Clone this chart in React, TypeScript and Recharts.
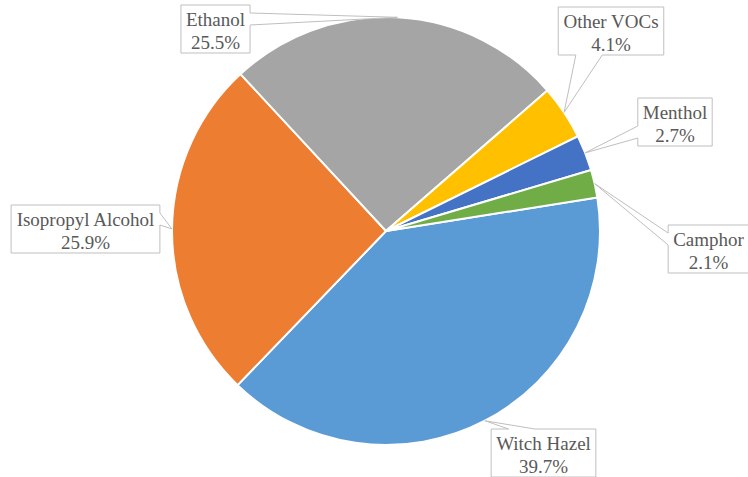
import React from 'react';
import { PieChart, Pie, Cell } from 'recharts';

const categories = ['Witch Hazel', 'Isopropyl Alcohol', 'Ethanol', 'Other VOCs', 'Menthol', 'Camphor'];
const shares = [39.7, 25.9, 25.5, 4.1, 2.7, 2.1];
const colors = ['#5B9BD5', '#ED7D31', '#A5A5A5', '#FFC000', '#4472C4', '#70AD47'];
// callout box centre, relative to pie centre
const calloutOffsets: [number, number][] = [
  [157.5, 222],
  [-300.5, -2],
  [-170.5, -202],
  [225, -200],
  [289, -109],
  [322.5, 18],
];

const data = categories.map((name, i) => ({ name, value: shares[i] }));

const FONT_FAMILY = '"Liberation Serif", serif';
const FONT_SIZE = 19;
const BOX_H = 48;
const PAD = 5;

let ctx: CanvasRenderingContext2D | null = null;
function textWidth(s: string): number {
  if (!ctx) {
    const c = document.createElement('canvas');
    ctx = c.getContext('2d');
  }
  if (!ctx) return s.length * FONT_SIZE * 0.5;
  ctx.font = `${FONT_SIZE}px ${FONT_FAMILY}`;
  return ctx.measureText(s).width;
}

function calloutPath(l: number, t: number, w: number, h: number, tx: number, ty: number): string {
  const r = l + w;
  const b = t + h;
  const xc = l + w / 2;
  const yc = t + h / 2;
  const dx = tx - xc;
  const dy = ty - yc;
  const horiz = Math.abs(dx) / w > Math.abs(dy) / h;
  const pts: [number, number][] = [];
  const frac = (neg: boolean) => (neg ? [2 / 12, 5 / 12] : [7 / 12, 10 / 12]);
  pts.push([l, t]);
  if (!horiz && dy < 0) {
    const [a, c] = frac(dx < 0);
    pts.push([l + w * a, t], [tx, ty], [l + w * c, t]);
  }
  pts.push([r, t]);
  if (horiz && dx > 0) {
    const [a, c] = frac(dy < 0);
    pts.push([r, t + h * a], [tx, ty], [r, t + h * c]);
  }
  pts.push([r, b]);
  if (!horiz && dy > 0) {
    const [a, c] = frac(dx < 0);
    pts.push([l + w * c, b], [tx, ty], [l + w * a, b]);
  }
  pts.push([l, b]);
  if (horiz && dx < 0) {
    const [a, c] = frac(dy < 0);
    pts.push([l, t + h * c], [tx, ty], [l, t + h * a]);
  }
  return 'M' + pts.map((p) => `${p[0]},${p[1]}`).join('L') + 'Z';
}

const RADIAN = Math.PI / 180;

function renderCallout(props: any) {
  const { cx, cy, midAngle, outerRadius, index, name, value } = props;
  const tx = cx + outerRadius * Math.cos(-midAngle * RADIAN);
  const ty = cy + outerRadius * Math.sin(-midAngle * RADIAN);
  const [ox, oy] = calloutOffsets[index];
  const line1 = String(name);
  const line2 = `${Number(value).toFixed(1)}%`;
  const w = Math.max(textWidth(line1), textWidth(line2)) + PAD * 2;
  const bx = cx + ox;
  const by = cy + oy;
  const l = bx - w / 2;
  const t = by - BOX_H / 2;
  return (
    <g key={`callout-${index}`}>
      <path d={calloutPath(l, t, w, BOX_H, tx, ty)} fill="#FFFFFF" stroke="#BFBFBF" strokeWidth={1} />
      <text
        x={bx}
        textAnchor="middle"
        fontFamily={FONT_FAMILY}
        fontSize={FONT_SIZE}
        fill="#595959"
      >
        <tspan x={bx} y={t + 21}>{line1}</tspan>
        <tspan x={bx} y={t + 43.5}>{line2}</tspan>
      </text>
    </g>
  );
}

export default function App() {
  return (
    <div style={{ position: 'absolute', left: 0, top: 0, width: 748, height: 477, background: '#FFFFFF' }}>
      <PieChart width={748} height={477} margin={{ top: 0, right: 0, bottom: 0, left: 0 }}>
        <Pie
          data={data}
          dataKey="value"
          nameKey="name"
          cx={386}
          cy={231}
          innerRadius={0}
          outerRadius={214}
          startAngle={9}
          endAngle={-351}
          stroke="#FFFFFF"
          strokeWidth={2}
          label={renderCallout}
          labelLine={false}
          isAnimationActive={false}
        >
          {data.map((d, i) => (
            <Cell key={d.name} fill={colors[i]} />
          ))}
        </Pie>
      </PieChart>
    </div>
  );
}
